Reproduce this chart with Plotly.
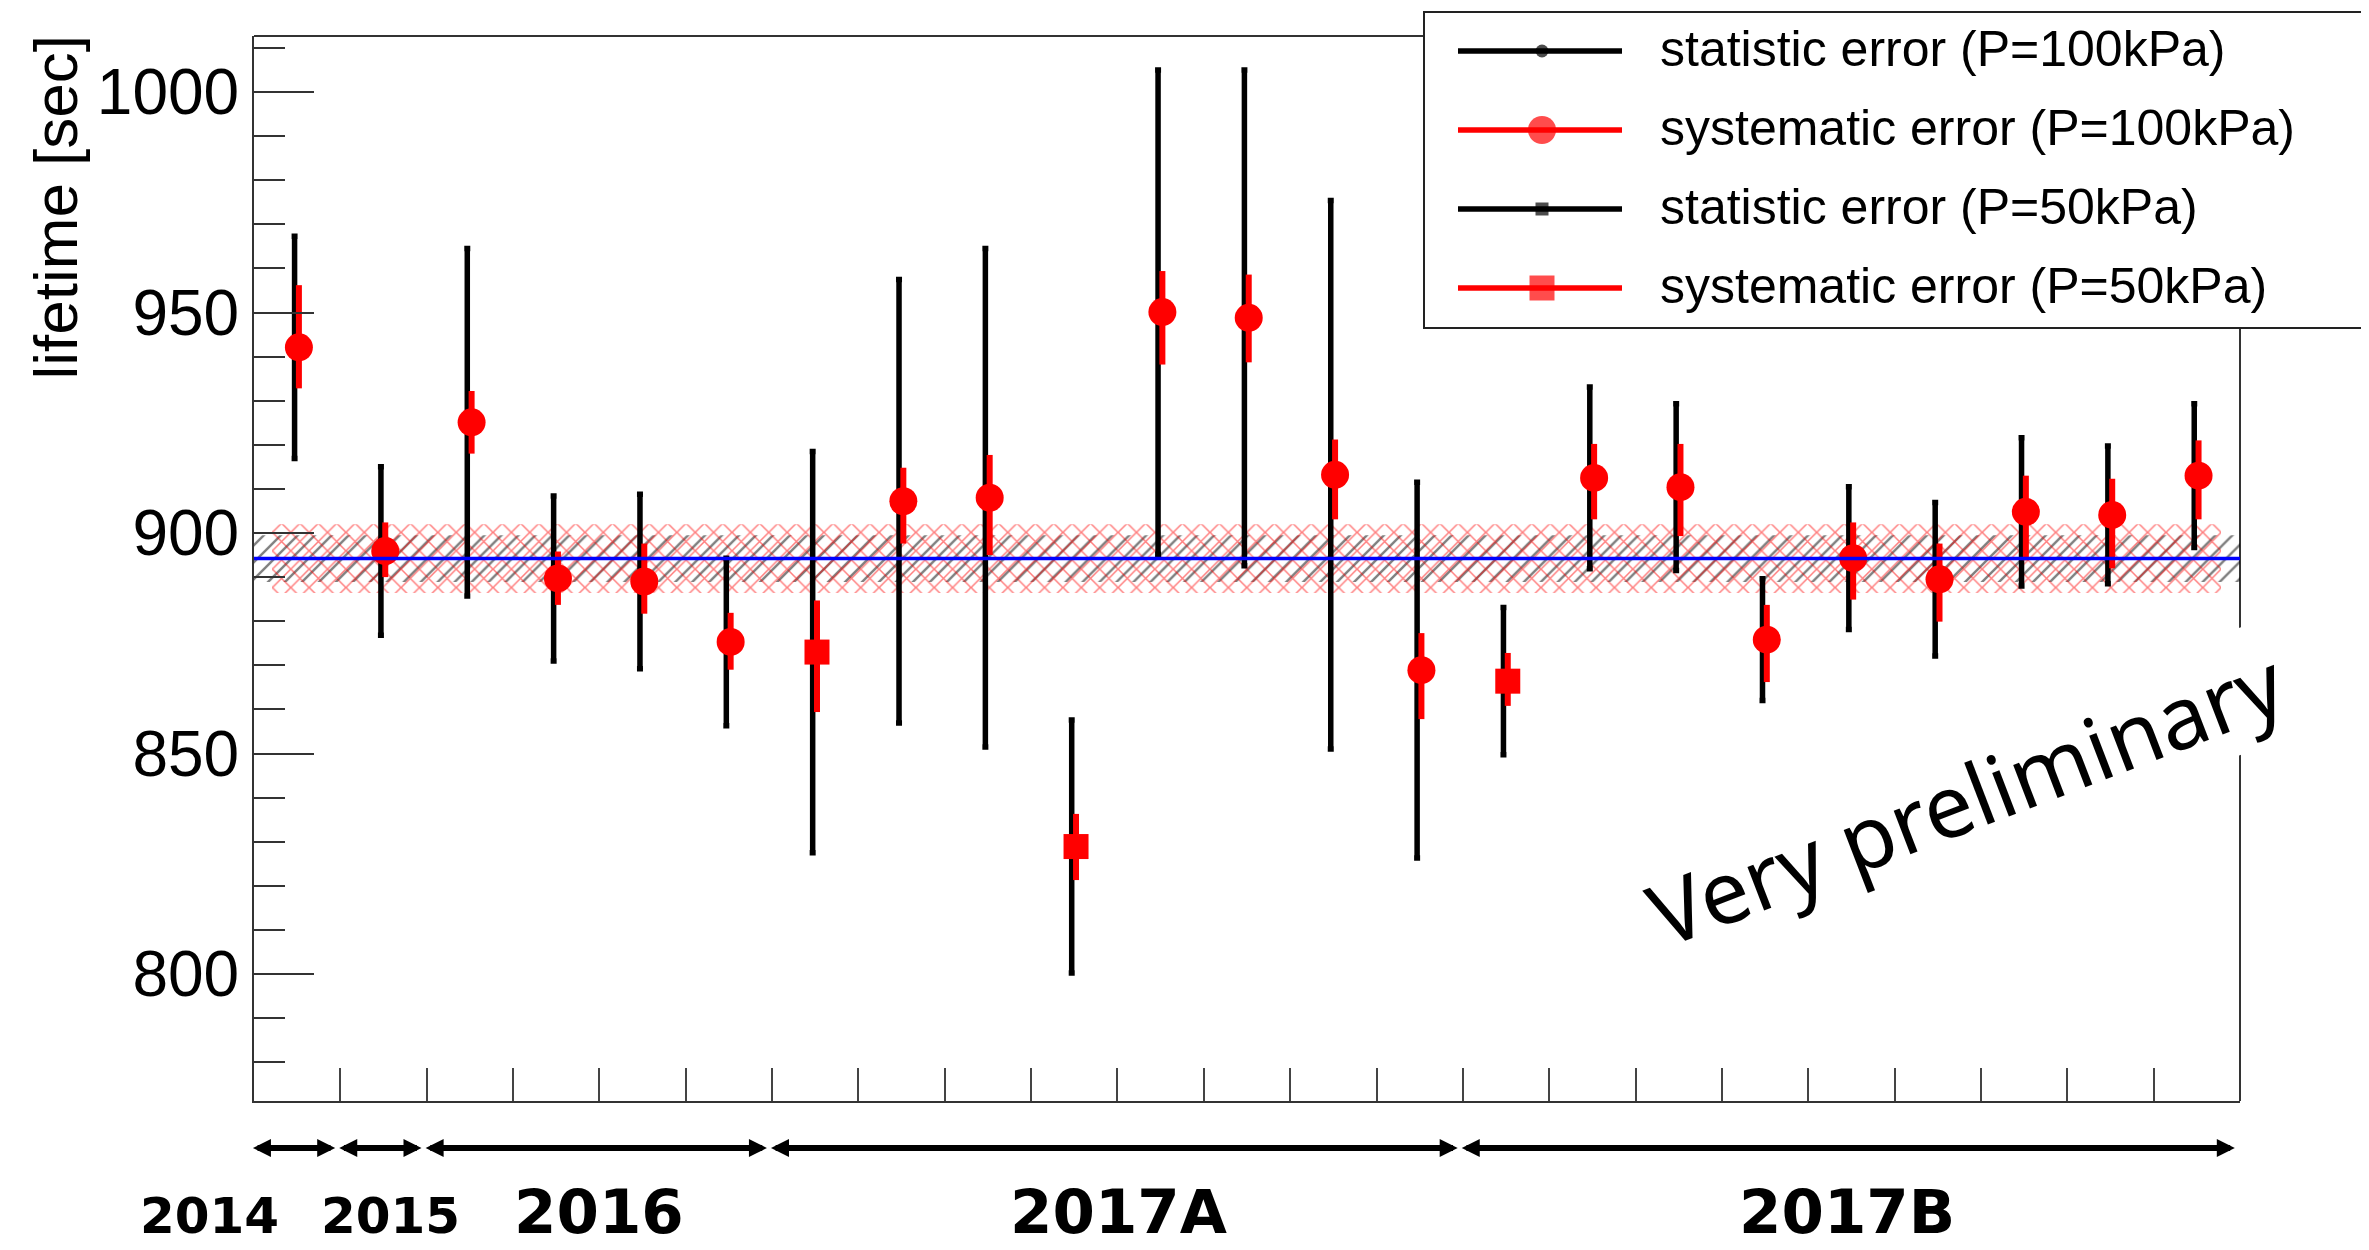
import plotly.graph_objects as go

# ---------------- data ----------------
bins = list(range(23))
pressure = ["100", "100", "100", "100", "100", "100", "50", "100", "100", "50",
            "100", "100", "100", "100", "50", "100", "100", "100", "100", "100",
            "100", "100", "100"]
lifetime = [942.1, 895.9, 925.1, 889.7, 889.0, 875.3, 873.0, 907.2, 908.0, 828.9,
            950.1, 948.8, 913.2, 868.9, 866.4, 912.5, 910.4, 875.8, 894.3, 889.5,
            904.8, 904.1, 913.0]
stat_err = [25.2, 19.1, 39.4, 18.7, 19.8, 19.0, 45.5, 50.3, 56.5, 28.7,
            54.9, 56.2, 62.2, 42.6, 16.7, 20.6, 18.9, 13.8, 16.2, 17.4,
            16.8, 15.6, 16.3]
sys_up = [14.1, 6.5, 7.1, 6.1, 8.6, 6.6, 11.7, 7.6, 9.7, 7.4,
          9.3, 9.8, 8.0, 8.4, 6.4, 7.7, 9.8, 7.9, 8.1, 8.1,
          8.2, 8.2, 8.0]
sys_down = [9.3, 5.9, 7.1, 6.0, 7.3, 6.3, 13.6, 9.6, 13.0, 7.6,
            11.9, 10.1, 10.1, 11.1, 5.6, 9.4, 11.1, 9.6, 9.4, 9.6,
            11.0, 12.1, 9.9]

mean_lifetime = 894.2
mean_stat = 5.3
mean_sys = 7.8
sys_band_x = [0.21, 22.78]

periods = ["2014", "2015", "2016", "2017A", "2017B"]
period_edges = [0, 1, 2, 6, 14, 23]

legend_labels = ["statistic error (P=100kPa)", "systematic error (P=100kPa)",
                 "statistic error (P=50kPa)", "systematic error (P=50kPa)"]
y_title = "lifetime [sec]"
watermark = "Very preliminary"

# ---------------- geometry / style ----------------
# coordinates below are reference-image pixels; the page body adds an 8px margin
OFF = 8
W, H = 2369 - OFF, 1250 - OFF
L, R, T, B = 254, 2240, 36, 1101          # plot frame in reference pixels
XR = [0, 23]
YR = [771.2, 1012.7]

def px(x):
    return (x - L) / (R - L)

def py(y):
    return (B - y) / (B - T)

FONT = "Liberation Sans, Arial, Helvetica, sans-serif"
YEARFONT = "DejaVu Sans, sans-serif"
RED = "#ff0000"

fig = go.Figure()

# statistical band of the mean (black hatch)
fig.add_trace(go.Scatter(
    x=[XR[0], XR[1], XR[1], XR[0], XR[0]],
    y=[mean_lifetime - mean_stat] * 2 + [mean_lifetime + mean_stat] * 2 + [mean_lifetime - mean_stat],
    mode="lines", line=dict(width=0, color="rgba(0,0,0,0)"),
    fill="toself", fillcolor="rgba(0,0,0,0)",
    fillpattern=dict(shape="/", fgcolor="#000000", bgcolor="rgba(0,0,0,0)", size=12, solidity=0.2),
    showlegend=False, hoverinfo="skip"))

# systematic band of the mean (red cross hatch)
fig.add_trace(go.Scatter(
    x=[sys_band_x[0], sys_band_x[1], sys_band_x[1], sys_band_x[0], sys_band_x[0]],
    y=[mean_lifetime - mean_sys] * 2 + [mean_lifetime + mean_sys] * 2 + [mean_lifetime - mean_sys],
    mode="lines", line=dict(width=0, color="rgba(0,0,0,0)"),
    fill="toself", fillcolor="rgba(0,0,0,0)",
    fillpattern=dict(shape="x", fgcolor="#ff0000", bgcolor="rgba(0,0,0,0)", size=13, solidity=0.22),
    showlegend=False, hoverinfo="skip"))

for p in ["100", "50"]:
    idx = [i for i in bins if pressure[i] == p]
    fig.add_trace(go.Scatter(
        x=[bins[i] + 0.5 - 0.03 for i in idx],
        y=[lifetime[i] for i in idx],
        mode="markers",
        marker=dict(size=1, color="rgba(0,0,0,0)"),
        error_y=dict(type="data", symmetric=True, array=[stat_err[i] for i in idx],
                     color="black", thickness=5.5, width=3),
        name="statistic error (P=%skPa)" % p, showlegend=False))
for p, sym, msize in [("100", "circle", 28), ("50", "square", 25)]:
    idx = [i for i in bins if pressure[i] == p]
    fig.add_trace(go.Scatter(
        x=[bins[i] + 0.5 + 0.02 for i in idx],
        y=[lifetime[i] for i in idx],
        mode="markers",
        marker=dict(size=msize, color=RED, symbol=sym, line=dict(width=0)),
        error_y=dict(type="data", symmetric=False,
                     array=[sys_up[i] for i in idx], arrayminus=[sys_down[i] for i in idx],
                     color=RED, thickness=6, width=0),
        name="systematic error (P=%skPa)" % p, showlegend=False))

# mean line
fig.add_trace(go.Scatter(x=XR, y=[mean_lifetime, mean_lifetime], mode="lines",
                         line=dict(color="#0000ff", width=3.5), showlegend=False, hoverinfo="skip"))

# ---------------- hand-drawn legend (pixel overlay axes) ----------------
leg_rows = [51, 130, 209, 288]
leg_colors = ["black", RED, "black", RED]
leg_symbols = ["circle", "circle", "square", "square"]
leg_sizes = [13, 28, 13, 25]
shapes = []
shapes.append(dict(type="line", xref="paper", yref="paper", x0=0, x1=1, y0=1, y1=1,
                   line=dict(color="#333333", width=2), layer="below"))
shapes.append(dict(type="line", xref="paper", yref="paper", x0=1, x1=1, y0=0, y1=1,
                   line=dict(color="#333333", width=2), layer="below"))
shapes.append(dict(type="rect", xref="paper", yref="paper",
                   x0=px(1424), x1=px(2365), y0=py(328), y1=py(12),
                   line=dict(color="#222222", width=2), fillcolor="white", layer="below"))
for r, c in zip(leg_rows, leg_colors):
    shapes.append(dict(type="line", xref="paper", yref="paper",
                       x0=px(1458), x1=px(1622), y0=py(r), y1=py(r),
                       line=dict(color=c, width=5.5), layer="below"))
fig.add_trace(go.Scatter(
    x=[1542] * 4, y=leg_rows, mode="markers", xaxis="x2", yaxis="y2",
    marker=dict(size=leg_sizes, color=leg_colors, symbol=leg_symbols, line=dict(width=0)),
    cliponaxis=False, showlegend=False, hoverinfo="skip"))

annotations = []
for r, t in zip(leg_rows, legend_labels):
    annotations.append(dict(text=t, xref="paper", yref="paper", x=px(1658), y=py(r - 2),
                            xanchor="left", yanchor="middle", showarrow=False,
                            font=dict(family=FONT, size=50, color="black")))

# y title
annotations.append(dict(text=y_title, xref="paper", yref="paper", x=px(55), y=py(33),
                        xanchor="center", yanchor="top", textangle=-90, showarrow=False,
                        font=dict(family=FONT, size=62, color="black")))

# period arrows and labels
label_px = [209, 390, 599, 1118, 1847]
label_py = [1216, 1216, 1211, 1211, 1211]
label_sizes = [50, 50, 61, 61, 61]
for k, name in enumerate(periods):
    a, b = period_edges[k], period_edges[k + 1]
    annotations.append(dict(x=b - 0.06, y=py(1148), xref="x", yref="paper",
                            ax=a - 0.03, ay=0, axref="x", ayref="pixel",
                            showarrow=True, arrowside="end+start", arrowhead=2, startarrowhead=2,
                            arrowsize=0.6, startarrowsize=0.6, arrowwidth=6, arrowcolor="black",
                            text=""))
    annotations.append(dict(text="<b>%s</b>" % name, x=px(label_px[k]), y=py(label_py[k]),
                            xref="paper", yref="paper",
                            xanchor="center", yanchor="middle", showarrow=False,
                            font=dict(family=YEARFONT, size=label_sizes[k], color="black")))

# watermark
annotations.append(dict(text=watermark, xref="paper", yref="paper", x=px(1965), y=py(797),
                        xanchor="center", yanchor="middle", textangle=-21, showarrow=False,
                        bgcolor="white", borderpad=0,
                        font=dict(family="Noto Sans, sans-serif", size=87, color="black")))

fig.update_layout(
    width=W, height=H, autosize=False,
    margin=dict(l=L - OFF, r=W - (R - OFF), t=T - OFF, b=H - (B - OFF), pad=0),
    paper_bgcolor="white", plot_bgcolor="white",
    font=dict(family=FONT, color="black"),
    showlegend=False,
    shapes=shapes, annotations=annotations,
    xaxis=dict(range=XR, showgrid=False, zeroline=False, showline=True, linecolor="#333333",
               linewidth=2, ticks="inside", tick0=0, dtick=1, ticklen=33, tickwidth=2,
               tickcolor="#444444", showticklabels=False),
    yaxis=dict(range=YR, showgrid=False, zeroline=False, showline=True, linecolor="#333333",
               linewidth=2, ticks="inside", tick0=800, dtick=50, ticklen=60, tickwidth=2,
               tickcolor="#333333", ticklabelstandoff=0,
               tickfont=dict(family=FONT, size=64, color="black"),
               minor=dict(dtick=10, tick0=800, ticks="inside", ticklen=31, tickwidth=2,
                          tickcolor="#333333", showgrid=False)),
    xaxis2=dict(overlaying="x", range=[L, R], visible=False, anchor="y2"),
    yaxis2=dict(overlaying="y", range=[B, T], visible=False, anchor="x2"),
)

fig.write_html("out.html")
